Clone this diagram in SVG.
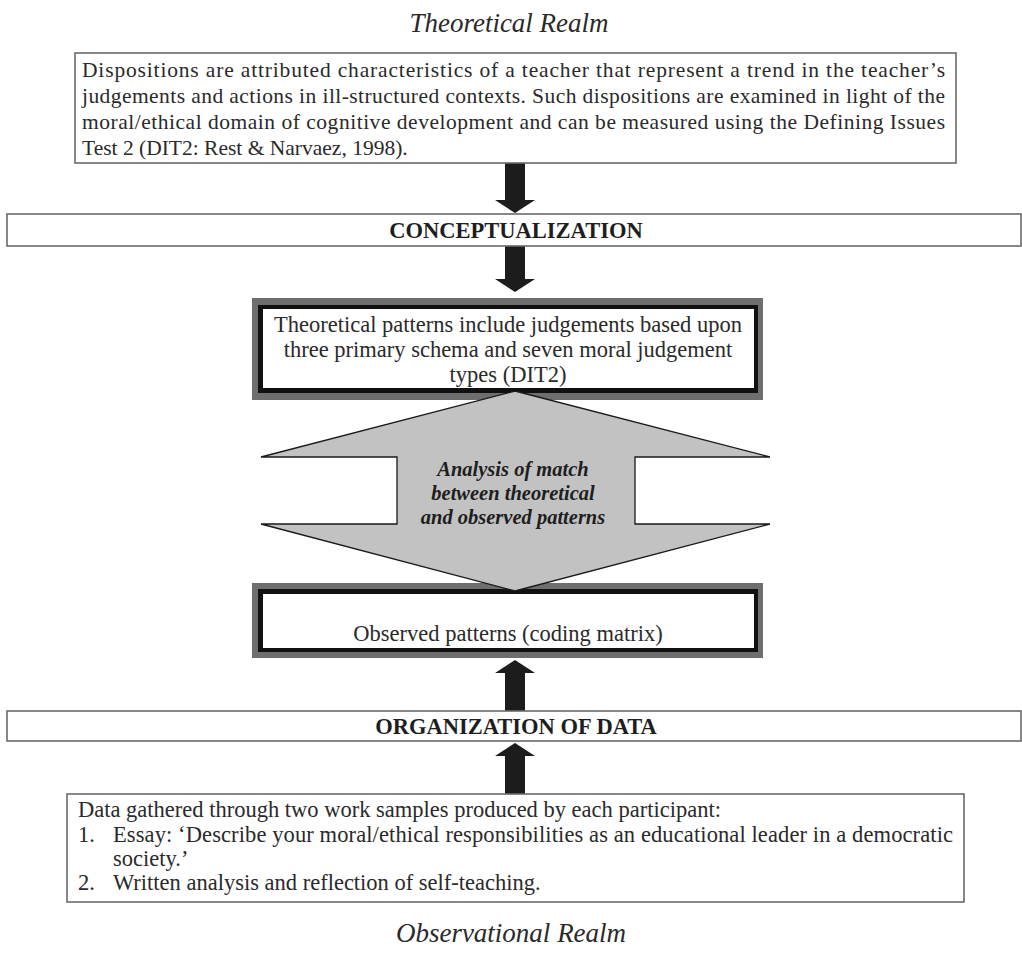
<svg xmlns="http://www.w3.org/2000/svg" width="1022" height="960" viewBox="0 0 1022 960">
<style>
text{font-family:"Liberation Serif","Times New Roman",serif;fill:#2a2a2a}
.realm{font-size:27px;font-style:italic;text-anchor:middle}
.body{font-size:21.5px}
.data{font-size:22.5px}
.mid{font-size:22.5px;text-anchor:middle}
.band{font-size:22.5px;font-weight:bold;text-anchor:middle;fill:#1e1e1e}
.ana{font-size:20.5px;font-weight:bold;font-style:italic;text-anchor:middle;fill:#1e1e1e}
.plain{fill:#fff;stroke:#6a6a6a;stroke-width:1.6}
.arrow{fill:#1c1c1c}
</style>
<rect width="1022" height="960" fill="#fff"/>
<text class="realm" x="509" y="32">Theoretical Realm</text>
<g id="connectors">
<polygon class="arrow" points="505,163 525,163 525,200 535,200 515,213 495,200 505,200"/>
<polygon class="arrow" points="505,246 525,246 525,279 535,279 515,292 495,279 505,279"/>
<polygon class="arrow" points="505,711 525,711 525,673 535,673 515,660 495,673 505,673"/>
<polygon class="arrow" points="505,794 525,794 525,756 535,756 515,743 495,756 505,756"/>
</g>
<g id="theory-definition">
<rect class="plain" x="75" y="53" width="881" height="110"/>
<text class="body" x="82" y="77" textLength="863" lengthAdjust="spacing">Dispositions are attributed characteristics of a teacher that represent a trend in the teacher’s</text>
<text class="body" x="82" y="103" textLength="863" lengthAdjust="spacing">judgements and actions in ill-structured contexts. Such dispositions are examined in light of the</text>
<text class="body" x="82" y="129" textLength="863" lengthAdjust="spacing">moral/ethical domain of cognitive development and can be measured using the Defining Issues</text>
<text class="body" x="82" y="155">Test 2 (DIT2: Rest &amp; Narvaez, 1998).</text>
</g>
<g id="conceptualization">
<rect class="plain" x="7" y="214" width="1014" height="32"/>
<text class="band" x="516" y="238">CONCEPTUALIZATION</text>
</g>
<g id="theoretical-patterns">
<rect x="252" y="298" width="511" height="102" fill="#6e6e6e"/>
<rect x="258" y="305" width="500" height="88" fill="#111"/>
<rect x="263" y="309" width="491" height="79" fill="#fff"/>
<text class="mid" x="508" y="332">Theoretical patterns include judgements based upon</text>
<text class="mid" x="508" y="357">three primary schema and seven moral judgement</text>
<text class="mid" x="508" y="382">types (DIT2)</text>
</g>
<g id="observed-patterns">
<rect x="252" y="583" width="511" height="75" fill="#6e6e6e"/>
<rect x="258" y="589" width="500" height="63" fill="#111"/>
<rect x="263" y="594" width="491" height="54" fill="#fff"/>
<text class="mid" x="508" y="641">Observed patterns (coding matrix)</text>
</g>
<g id="analysis">
<polygon points="515,391 770,457 635,457 635,524 770,524 515,591 261,524 397,524 397,457 261,457" fill="#c2c2c2" stroke="#1a1a1a" stroke-width="1.3" stroke-linejoin="miter"/>
<text class="ana" x="513" y="476">Analysis of match</text>
<text class="ana" x="513" y="500">between theoretical</text>
<text class="ana" x="513" y="524">and observed patterns</text>
</g>
<g id="organization">
<rect class="plain" x="7" y="711" width="1014" height="30"/>
<text class="band" x="516" y="734">ORGANIZATION OF DATA</text>
</g>
<g id="data-gathered">
<rect class="plain" x="67" y="794" width="897" height="108"/>
<text class="data" x="78" y="817">Data gathered through two work samples produced by each participant:</text>
<text class="data" x="78" y="842">1.</text>
<text class="data" x="113" y="842" textLength="840" lengthAdjust="spacing">Essay: ‘Describe your moral/ethical responsibilities as an educational leader in a democratic</text>
<text class="data" x="113" y="866">society.’</text>
<text class="data" x="78" y="890">2.</text>
<text class="data" x="113" y="890">Written analysis and reflection of self-teaching.</text>
</g>
<text class="realm" x="511" y="942">Observational Realm</text>
</svg>
